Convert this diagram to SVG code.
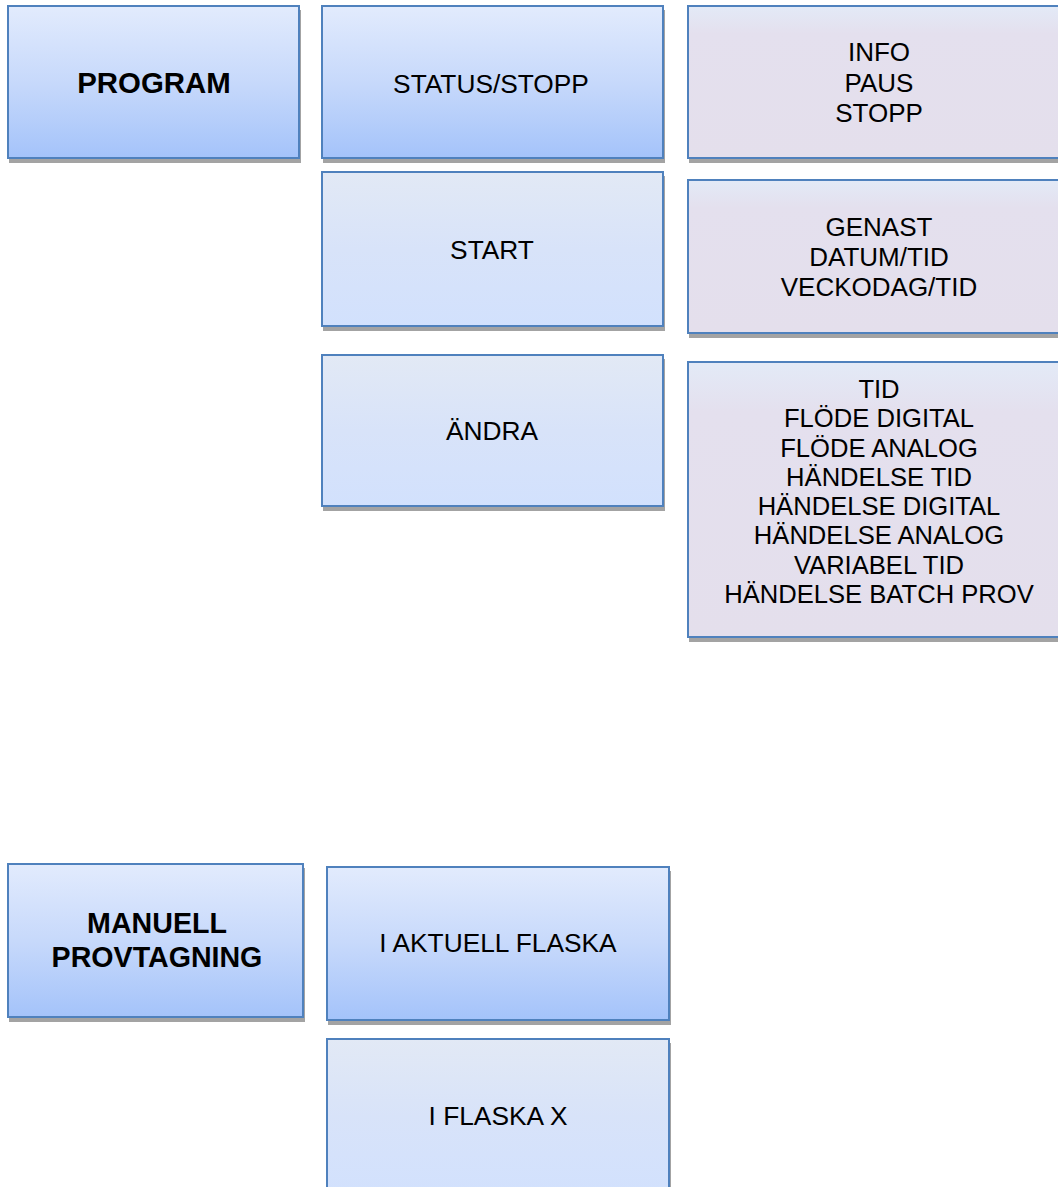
<svg xmlns="http://www.w3.org/2000/svg" width="1058" height="1187" viewBox="0 0 1058 1187">
  <defs>
    <linearGradient id="gBlue" x1="0" y1="0" x2="0" y2="1">
      <stop offset="0" stop-color="#e2ebfd"/>
      <stop offset="0.5" stop-color="#c7d9fb"/>
      <stop offset="1" stop-color="#a4c3fa"/>
    </linearGradient>
    <linearGradient id="gLight" x1="0" y1="0" x2="0" y2="1">
      <stop offset="0" stop-color="#e2e9f5"/>
      <stop offset="0.5" stop-color="#d8e3f9"/>
      <stop offset="1" stop-color="#d2e1fd"/>
    </linearGradient>
    <linearGradient id="gPurple" x1="0" y1="0" x2="0" y2="1">
      <stop offset="0" stop-color="#e3eaf7"/>
      <stop offset="0.18" stop-color="#e4e0ee"/>
      <stop offset="1" stop-color="#e4dfec"/>
    </linearGradient>
  </defs>
  <style>
    .shadow { fill: #a3a3a3; }
    .box { stroke: #4f81bd; stroke-width: 2; }
    .blue { fill: url(#gBlue); }
    .light { fill: url(#gLight); }
    .purple { fill: url(#gPurple); }
    text { font-family: "Liberation Sans", Arial, sans-serif; fill: #000; text-anchor: middle; }
    .reg { font-size: 26.3px; }
    .sub { font-size: 26px; }
    .list { font-size: 25.6px; }
    .bold { font-size: 29px; font-weight: bold; }
  </style>
  <rect width="1058" height="1187" fill="#ffffff"/>
  <g id="connectors"/>
  <g id="program">
    <rect class="shadow" x="9" y="10" width="292" height="153"/>
    <rect class="box blue" x="8" y="6" width="291" height="152"/>
    <text class="bold" x="154" y="93" style="font-size:29.4px">PROGRAM</text>
  </g>
  <g id="status-stopp">
    <rect class="shadow" x="323" y="10" width="342" height="153"/>
    <rect class="box blue" x="322" y="6" width="341" height="152"/>
    <text class="reg" x="491" y="93">STATUS/STOPP</text>
  </g>
  <g id="info">
    <rect class="shadow" x="689" y="10" width="383" height="153"/>
    <rect class="box purple" x="688" y="6" width="382" height="152"/>
    <text class="sub" x="879" y="61">INFO</text>
    <text class="sub" x="879" y="92">PAUS</text>
    <text class="sub" x="879" y="122">STOPP</text>
  </g>
  <g id="start">
    <rect class="shadow" x="323" y="176" width="342" height="155"/>
    <rect class="box light" x="322" y="172" width="341" height="154"/>
    <text class="reg" x="492" y="259">START</text>
  </g>
  <g id="genast">
    <rect class="shadow" x="689" y="184" width="383" height="154"/>
    <rect class="box purple" x="688" y="180" width="382" height="153"/>
    <text class="sub" x="879" y="236">GENAST</text>
    <text class="sub" x="879" y="266">DATUM/TID</text>
    <text class="sub" x="879" y="296">VECKODAG/TID</text>
  </g>
  <g id="andra">
    <rect class="shadow" x="323" y="359" width="342" height="152"/>
    <rect class="box light" x="322" y="355" width="341" height="151"/>
    <text class="reg" x="492" y="440">ÄNDRA</text>
  </g>
  <g id="tid">
    <rect class="shadow" x="689" y="366" width="383" height="276"/>
    <rect class="box purple" x="688" y="362" width="382" height="275"/>
    <text class="list" x="879" y="398">TID</text>
    <text class="list" x="879" y="427.3">FLÖDE DIGITAL</text>
    <text class="list" x="879" y="456.6">FLÖDE ANALOG</text>
    <text class="list" x="879" y="485.9">HÄNDELSE TID</text>
    <text class="list" x="879" y="515.1">HÄNDELSE DIGITAL</text>
    <text class="list" x="879" y="544.4">HÄNDELSE ANALOG</text>
    <text class="list" x="879" y="573.7">VARIABEL TID</text>
    <text class="list" x="879" y="603">HÄNDELSE BATCH PROV</text>
  </g>
  <g id="manuell">
    <rect class="shadow" x="9" y="868" width="296" height="154"/>
    <rect class="box blue" x="8" y="864" width="295" height="153"/>
    <text class="bold" x="157" y="933" style="font-size:28.6px">MANUELL</text>
    <text class="bold" x="157" y="967" style="font-size:28.6px">PROVTAGNING</text>
  </g>
  <g id="aktuell">
    <rect class="shadow" x="328" y="871" width="343" height="154"/>
    <rect class="box blue" x="327" y="867" width="342" height="153"/>
    <text class="reg" x="498" y="952">I AKTUELL FLASKA</text>
  </g>
  <g id="flaska-x">
    <rect class="shadow" x="328" y="1043" width="343" height="155"/>
    <rect class="box light" x="327" y="1039" width="342" height="154"/>
    <text class="reg" x="498" y="1125">I FLASKA X</text>
  </g>
</svg>
